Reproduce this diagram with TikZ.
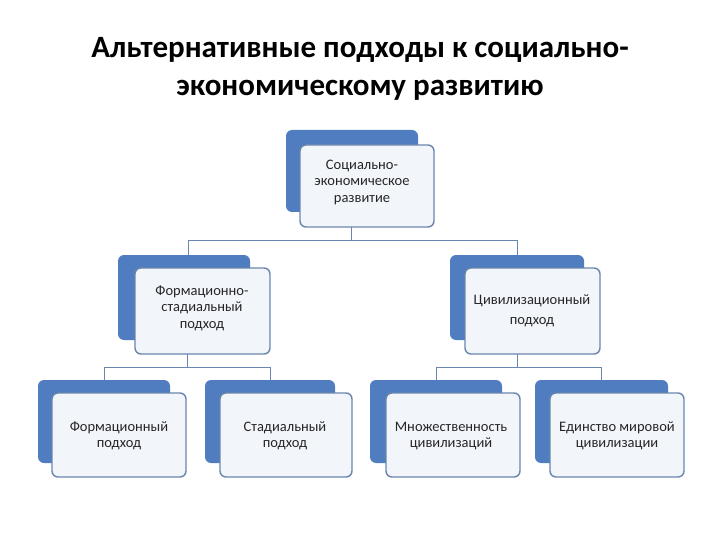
\documentclass[tikz,border=0pt]{standalone}
\usepackage{fontspec}
\setmainfont{Carlito}
\begin{document}
\begin{tikzpicture}[x=1pt,y=-1pt,
 back/.style={draw=none, rounded corners=6pt, fill=backblue},
 front/.style={fill=frontfill, draw=frontdraw, line width=1.4pt, rounded corners=6pt},
 lbl/.style={align=center, font=\fontsize{14.5}{16.5}\selectfont, text=black!85},
 conn/.style={draw=frontdraw, line width=1pt}]
\definecolor{backblue}{HTML}{4F7DBF}
\definecolor{frontfill}{HTML}{F2F5FA}
\definecolor{frontdraw}{HTML}{6A86AE}
\useasboundingbox (0,0) rectangle (720,540);
\node[font=\bfseries\fontsize{31}{38}\selectfont, align=center] (title) at (360,69) {Альтернативные подходы к социально-\\экономическому развитию};
\newcommand\mybox[9]{%
 \fill[back] (#1,#2) rectangle (#3,#4);
 \draw[front] (#5,#6) rectangle (#7,#8);
 \node[lbl] (#9) at ({(#5+#7)/2},{(#6+#8)/2}) {};}
\mybox{286}{130}{418}{212}{300}{145}{434}{227}{top}
\mybox{118}{255}{250}{340}{135}{268}{270}{354}{l}
\mybox{450}{255}{584}{340}{465}{268}{600}{354}{r}
\mybox{38}{380}{170}{463}{52}{393}{186}{477}{a}
\mybox{205}{380}{335}{463}{220}{393}{352}{477}{b}
\mybox{370}{380}{502}{463}{386}{393}{520}{477}{c}
\mybox{535}{380}{668}{463}{550}{393}{684}{477}{d}
\node[lbl] (ttop) at (362,182) {Социально-\\экономическое\\развитие};
\node[lbl] (tl) at (202,308) {Формационно-\\стадиальный\\подход};
\node[lbl] (tr) at (532,311) {Цивилизационный\\[4pt]подход};
\node[lbl] (ta) at (119,436) {Формационный\\подход};
\node[lbl] (tb) at (285,436) {Стадиальный\\подход};
\node[lbl] (tc) at (451,436) {Множественность\\цивилизаций};
\node[lbl] (td) at (617,436) {Единство мировой\\цивилизации};
\coordinate (j1) at (351,240);
\coordinate (j2) at (187,367);
\coordinate (j3) at (517,367);
\draw[conn] (351,227) -- (j1) -- (188,240) -- (188,255);
\draw[conn] (j1) -- (517,240) -- (517,255);
\draw[conn] (187,354) -- (j2) -- (104,367) -- (104,380);
\draw[conn] (j2) -- (270,367) -- (270,380);
\draw[conn] (517,354) -- (j3) -- (436,367) -- (436,380);
\draw[conn] (j3) -- (601,367) -- (601,380);
\end{tikzpicture}
\end{document}
